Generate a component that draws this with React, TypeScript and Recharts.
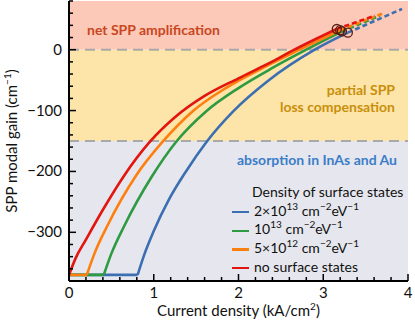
import { Line, LineChart, ReferenceArea, ReferenceLine, XAxis, YAxis } from "recharts";

// current density (kA/cm2) and modal gain (1/cm)
const redX = [0, 0.08, 0.2, 0.4, 0.65, 0.95, 1.25, 1.6, 2.0, 2.35, 2.66, 3.16];
const redY = [-370, -342, -312, -263, -207, -152, -111, -76, -47, -23, 0, 34];
const orangeX = [0, 0.21, 0.3, 0.45, 0.8, 1.1, 1.46, 1.85, 2.3, 2.72, 3.2];
const orangeY = [-370, -370, -335, -290, -205, -152, -101, -63, -29, 0, 32];
const greenX = [0, 0.41, 0.5, 0.65, 0.97, 1.26, 1.62, 2.0, 2.4, 2.8, 3.22];
const greenY = [-370, -370, -335, -290, -210, -152, -101, -63, -30, 0, 30];
const blueX = [0, 0.81, 0.88, 1.0, 1.18, 1.38, 1.62, 1.94, 2.35, 2.9, 3.29];
const blueY = [-370, -370, -340, -298, -246, -200, -152, -101, -51, 0, 28];

// extrapolated parts (dashed)
const redTailX = [3.16, 3.61];
const redTailY = [34, 56];
const orangeTailX = [3.2, 3.71];
const orangeTailY = [32, 60];
const greenTailX = [3.22, 3.67];
const greenTailY = [30, 56];
const blueTailX = [3.29, 3.93];
const blueTailY = [28, 67];

const xTicks = [0, 0.2, 0.4, 0.6, 0.8, 1, 1.2, 1.4, 1.6, 1.8, 2, 2.2, 2.4, 2.6, 2.8, 3, 3.2, 3.4, 3.6, 3.8, 4];
const xLabels = [0, 1, 2, 3, 4];
const yTicks = [-380, -360, -340, -320, -300, -280, -260, -240, -220, -200, -180, -160, -140, -120, -100, -80, -60, -40, -20, 0, 20, 40, 60, 80];
const yLabels = [-300, -200, -100, 0];

const legendNames = ["2×10|13", "10|13", "5×10|12", "no surface states"];

const zip = (xs: number[], ys: number[]) => xs.map((x, i) => ({ x, y: ys[i] }));

const FONT = "Lato, 'Open Sans', sans-serif";
const C_RED = "#e3150f";
const C_ORANGE = "#ff7f0e";
const C_GREEN = "#2e9a41";
const C_BLUE = "#3b6fb2";

const series = [
  { name: "blue", color: C_BLUE, data: zip(blueX, blueY), tail: zip(blueTailX, blueTailY) },
  { name: "green", color: C_GREEN, data: zip(greenX, greenY), tail: zip(greenTailX, greenTailY) },
  { name: "orange", color: C_ORANGE, data: zip(orangeX, orangeY), tail: zip(orangeTailX, orangeTailY) },
  { name: "red", color: C_RED, data: zip(redX, redY), tail: zip(redTailX, redTailY) },
];

// split at the end of the flat floor so the corner stays sharp
const splitFloor = (d: { x: number; y: number }[]) => {
  let k = 0;
  while (k + 1 < d.length && d[k + 1].y === d[0].y) k++;
  return { flat: d.slice(0, k + 1), rise: d.slice(k) };
};

const endDot = (n: number) => (p: any) =>
  p.index === n - 1 ? (
    <circle key={"d" + p.index} cx={p.cx} cy={p.cy} r={4.5} fill="none" stroke="#5a1c12" strokeWidth={1.3} />
  ) : (
    <g key={"d" + p.index} />
  );

const BottomTick = (p: any) => {
  const v = p.payload.value;
  const major = xLabels.includes(v);
  return (
    <g>
      <line x1={p.x} x2={p.x} y1={p.y} y2={p.y - (major ? 7 : 4)} stroke="#000" strokeWidth={1.5} />
      {major && (
        <text x={p.x} y={p.y + 17} textAnchor="middle" fontSize={15} fontFamily={FONT} fill="#111">
          {v}
        </text>
      )}
    </g>
  );
};

const TopTick = (p: any) => {
  const major = xLabels.includes(p.payload.value);
  return <line x1={p.x} x2={p.x} y1={p.y} y2={p.y + (major ? 7 : 4)} stroke="#000" strokeWidth={1.5} />;
};

const LeftTick = (p: any) => {
  const v = p.payload.value;
  const major = yLabels.includes(v);
  return (
    <g>
      <line x1={p.x} x2={p.x + (major ? 7 : 4)} y1={p.y} y2={p.y} stroke="#000" strokeWidth={1.5} />
      {major && (
        <text x={p.x - 7} y={p.y + 5} textAnchor="end" fontSize={15} fontFamily={FONT} fill="#111">
          {String(v).replace("-", "−")}
        </text>
      )}
    </g>
  );
};

const RightTick = (p: any) => {
  const major = yLabels.includes(p.payload.value);
  return <line x1={p.x} x2={p.x - (major ? 7 : 4)} y1={p.y} y2={p.y} stroke="#000" strokeWidth={1.5} />;
};

const sup: any = { fontSize: 10, lineHeight: 0, position: "relative", top: -6 };

const LegendRow = ({ label, color }: { label: string; color: string }) => {
  const [base, exp] = label.split("|");
  return (
    <div style={{ whiteSpace: "nowrap", height: 18.7 }}>
      <span style={{ display: "inline-block", width: 17, height: 2.5, background: color, verticalAlign: "middle", marginRight: 5 }} />
      {base}
      {exp && (
        <>
          <span style={sup}>{exp}</span> cm<span style={sup}>−2</span>eV<span style={sup}>−1</span>
        </>
      )}
    </div>
  );
};

export default function App() {
  const legendColors = [C_BLUE, C_GREEN, C_ORANGE, C_RED];
  return (
    <div style={{ position: "absolute", left: 0, top: 0, width: 415, height: 320, fontFamily: FONT }}>
      <LineChart width={415} height={320} margin={{ top: 1, right: 7, bottom: 0, left: 0 }}>
        <ReferenceArea
          y1={0}
          y2={80}
          fill="#fcc8b8"
          fillOpacity={1}
          label={(p: any) => {
            const v = p.viewBox;
            return (
              <text x={v.x + 18} y={v.y + v.height * 0.7} fontSize={14} fontWeight={700} fontFamily={FONT} fill="#c8471e">
                net SPP amplification
              </text>
            );
          }}
        />
        <ReferenceArea
          y1={-150}
          y2={0}
          fill="#fde4a8"
          fillOpacity={1}
          label={(p: any) => {
            const v = p.viewBox;
            return (
              <text textAnchor="end" fontSize={14} fontWeight={700} fontFamily={FONT} fill="#c98f0c">
                <tspan x={v.x + v.width - 13} y={v.y + 45}>partial SPP</tspan>
                <tspan x={v.x + v.width - 13} y={v.y + 62}>loss compensation</tspan>
              </text>
            );
          }}
        />
        <ReferenceArea
          y1={-380}
          y2={-150}
          fill="#e6e7ee"
          fillOpacity={1}
          label={(p: any) => {
            const v = p.viewBox;
            return (
              <text x={v.x + v.width - 11} y={v.y + 24} textAnchor="end" fontSize={14} fontWeight={700} fontFamily={FONT} fill="#3b7dc8">
                absorption in InAs and Au
              </text>
            );
          }}
        />
        <ReferenceLine y={0} stroke="#a9a9a9" strokeWidth={2} strokeDasharray="10 6" />
        <ReferenceLine y={-150} stroke="#a9a9a9" strokeWidth={2} strokeDasharray="10 6" />

        <XAxis
          dataKey="x"
          type="number"
          domain={[0, 4]}
          ticks={xTicks}
          interval={0}
          height={39}
          tickSize={0}
          tickMargin={0}
          tickLine={false}
          tick={BottomTick}
          axisLine={{ stroke: "#000", strokeWidth: 2 }}
          label={(p: any) => {
            const v = p.viewBox;
            return (
              <text x={v.x + v.width / 2} y={v.y + 35} textAnchor="middle" fontSize={15} fontFamily={FONT} fill="#111">
                Current density (kA/cm<tspan dy={-6} fontSize={10}>2</tspan>
                <tspan dy={6}>)</tspan>
              </text>
            );
          }}
        />
        <XAxis
          xAxisId="top"
          orientation="top"
          type="number"
          domain={[0, 4]}
          ticks={xTicks}
          interval={0}
          height={0}
          tickSize={0}
          tickMargin={0}
          tickLine={false}
          tick={TopTick}
          axisLine={{ stroke: "#000", strokeWidth: 2 }}
        />
        <YAxis
          type="number"
          domain={[-380, 80]}
          ticks={yTicks}
          interval={0}
          width={69}
          tickSize={0}
          tickMargin={0}
          tickLine={false}
          tick={LeftTick}
          axisLine={{ stroke: "#000", strokeWidth: 2 }}
          label={(p: any) => {
            const v = p.viewBox;
            const cx = v.x + 17;
            const cy = v.y + v.height / 2;
            return (
              <text x={cx} y={cy} transform={`rotate(-90 ${cx} ${cy})`} textAnchor="middle" fontSize={15} fontFamily={FONT} fill="#111">
                SPP modal gain (cm<tspan dy={-6} fontSize={10}>−1</tspan>
                <tspan dy={6}>)</tspan>
              </text>
            );
          }}
        />
        <YAxis
          yAxisId="right"
          orientation="right"
          type="number"
          domain={[-380, 80]}
          ticks={yTicks}
          interval={0}
          width={0}
          tickSize={0}
          tickMargin={0}
          tickLine={false}
          tick={RightTick}
          axisLine={{ stroke: "#000", strokeWidth: 2 }}
        />

        {series.map((s) => (
          <Line
            key={s.name + "tail"}
            data={s.tail}
            dataKey="y"
            type="linear"
            stroke={s.color}
            strokeWidth={2.6}
            strokeDasharray="5 3"
            dot={false}
            activeDot={false}
            isAnimationActive={false}
          />
        ))}
        {series.map((s) => {
          const { flat } = splitFloor(s.data);
          return flat.length > 1 ? (
            <Line
              key={s.name + "flat"}
              data={flat}
              dataKey="y"
              type="linear"
              stroke={s.color}
              strokeWidth={2.6}
              dot={false}
              activeDot={false}
              isAnimationActive={false}
            />
          ) : null;
        })}
        {series.map((s) => {
          const { rise } = splitFloor(s.data);
          return (
            <Line
              key={s.name}
              data={rise}
              dataKey="y"
              type="monotone"
              stroke={s.color}
              strokeWidth={2.6}
              dot={endDot(rise.length)}
              activeDot={false}
              isAnimationActive={false}
            />
          );
        })}
      </LineChart>

      <div style={{ position: "absolute", left: 232, top: 183, fontSize: 14, lineHeight: "18.7px", color: "#111" }}>
        <div style={{ paddingLeft: 20, height: 18.7 }}>Density of surface states</div>
        {legendNames.map((n, i) => (
          <LegendRow key={n} label={n} color={legendColors[i]} />
        ))}
      </div>
    </div>
  );
}
